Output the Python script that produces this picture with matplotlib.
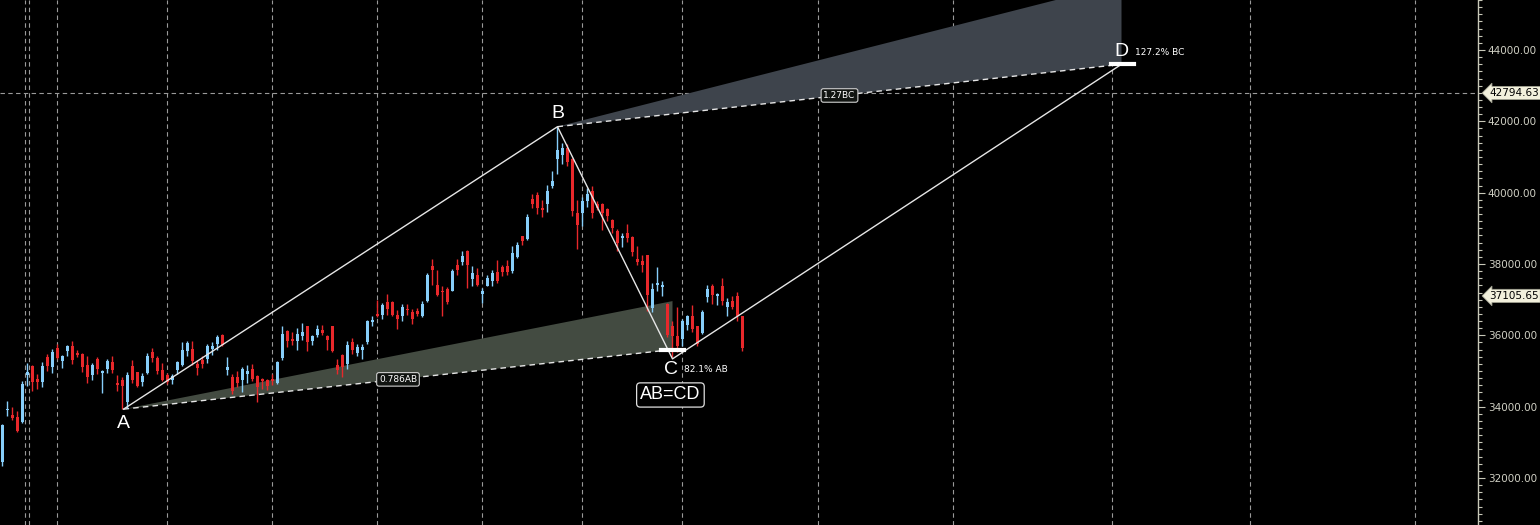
import numpy as np
import matplotlib.pyplot as plt
from matplotlib.patches import Polygon
from matplotlib.ticker import MultipleLocator, FuncFormatter
import matplotlib.transforms as mtransforms

# daily candles
opens = [32441, 33897, 33757, 33711, 33561, 34878, 35130, 34775, 34682, 35382,
         35102, 35643, 35270, 35550, 35690, 35503, 35475, 35158, 34897, 35345,
         34943, 35055, 35251, 34663, 34756, 34122, 35130, 34962, 34691, 34943,
         35522, 35363, 35037, 34896, 34738, 35037, 35177, 35550, 35625, 35196,
         35317, 35345, 35616, 35756, 36017, 35037, 34822, 34822, 34757, 34925,
         35065, 34869, 34776, 34738, 34785, 34664, 35364, 36129, 35905, 35831,
         35971, 36251, 35831, 35999, 36139, 35971, 36251, 35177, 35457, 35205,
         35803, 35504, 35579, 35803, 36363, 36605, 36577, 36922, 36922, 36577,
         36530, 36745, 36642, 36670, 36549, 36950, 37949, 37417, 37249, 37305,
         37249, 37977, 38052, 38370, 37576, 37697, 37156, 37389, 37511, 37772,
         37912, 37931, 37791, 38183, 38771, 38696, 39826, 39938, 39583, 39677,
         40200, 40947, 41059, 41245, 40937, 39443, 39425, 39779, 40050, 39686,
         39686, 39546, 39238, 38939, 38724, 38883, 38743, 38146, 38090, 38258,
         36764, 37399, 37352, 36876, 36250, 35989, 35905, 36278, 36530, 36269,
         36063, 37062, 37370, 37109, 37389, 36792, 36950, 37109, 36530]
highs = [33515, 34168, 33991, 33869, 34710, 35223, 35158, 34925, 35251, 35475,
         35625, 35756, 35457, 35737, 35849, 35578, 35503, 35429, 35223, 35382,
         35018, 35345, 35410, 34896, 34822, 34962, 35317, 34971, 34943, 35503,
         35643, 35410, 35223, 34943, 34915, 35270, 35812, 35830, 35849, 35317,
         35429, 35756, 35812, 36017, 36036, 35382, 34916, 35009, 35102, 35177,
         35205, 34897, 34804, 34785, 34916, 35289, 36251, 36157, 36092, 36204,
         36344, 36251, 36017, 36279, 36279, 36017, 36270, 35345, 35485, 35831,
         35924, 35765, 35765, 36438, 36531, 36997, 36904, 37165, 36950, 36717,
         36885, 36885, 36736, 36764, 36950, 37744, 38136, 37837, 37370, 37352,
         37856, 38136, 38370, 38398, 37949, 37884, 37324, 37697, 37819, 38117,
         37959, 38117, 38510, 38612, 38799, 39397, 39966, 40013, 39798, 40218,
         40610, 41852, 41385, 41357, 40965, 39798, 39873, 40125, 40190, 39770,
         39705, 39583, 39257, 38977, 38883, 39126, 38771, 38491, 38258, 38258,
         37464, 37912, 37529, 36904, 36390, 36792, 36465, 36577, 36857, 36269,
         36717, 37417, 37436, 37184, 37604, 37044, 37090, 37202, 36549]
lows = [32329, 33729, 33617, 33281, 33543, 34570, 34430, 34495, 34542, 34990,
        34943, 35335, 35083, 35410, 35195, 35391, 34962, 34663, 34738, 34915,
        34383, 34943, 34943, 34430, 33935, 33963, 34663, 34542, 34588, 34915,
        35242, 34915, 34710, 34635, 34644, 34915, 35149, 35429, 35177, 34878,
        35084, 35224, 35439, 35597, 35691, 34897, 34365, 34552, 34411, 34664,
        34710, 34122, 34496, 34458, 34617, 34645, 35317, 35663, 35737, 35597,
        35877, 35551, 35719, 35952, 36017, 35597, 35523, 34925, 34822, 35065,
        35485, 35410, 35345, 35765, 36251, 36512, 36465, 36577, 36549, 36175,
        36390, 36577, 36325, 36530, 36502, 36922, 37398, 37090, 36530, 36885,
        37231, 37679, 37959, 37324, 37370, 37370, 36904, 37370, 37370, 37464,
        37651, 37679, 37744, 38164, 38519, 38678, 39583, 39397, 39313, 39453,
        40144, 40517, 40807, 40760, 39359, 38426, 39070, 39593, 39303, 39518,
        38958, 39219, 38883, 38370, 38472, 38603, 38211, 37977, 37763, 36670,
        36642, 37230, 37109, 35951, 35391, 35531, 35690, 36157, 36091, 35690,
        36045, 36922, 36885, 36839, 36857, 36549, 36745, 36390, 35549]
closes = [33496, 33944, 33683, 33328, 34644, 34971, 34682, 34682, 35130, 35149,
          35531, 35363, 35410, 35690, 35317, 35438, 35102, 34831, 35158, 35055,
          34990, 35270, 35018, 34598, 34570, 34896, 34756, 34570, 34850, 35410,
          35363, 34990, 34756, 34682, 34850, 35242, 35597, 35784, 35270, 35084,
          35205, 35709, 35691, 35943, 35737, 35102, 34430, 34664, 35065, 34990,
          34785, 34552, 34710, 34589, 34720, 35242, 36045, 35831, 35831, 36045,
          36092, 35803, 35971, 36176, 36064, 35877, 35551, 35037, 35112, 35737,
          35597, 35663, 35663, 36391, 36438, 36549, 36857, 36745, 36577, 36465,
          36792, 36698, 36465, 36605, 36885, 37697, 37819, 37137, 37202, 36932,
          37791, 37837, 38211, 37959, 37744, 37417, 37249, 37604, 37744, 37529,
          37763, 37772, 38304, 38538, 38631, 39331, 39686, 39565, 39518, 40050,
          40330, 41199, 41245, 40872, 39499, 39098, 39779, 39966, 39425, 39565,
          39443, 39359, 39023, 38584, 38771, 38724, 38323, 38043, 37977, 37137,
          37305, 37464, 37399, 36017, 35970, 35690, 36390, 36530, 36185, 35765,
          36642, 37305, 37137, 37156, 36950, 36922, 36782, 36549, 35643]

# AB=CD pattern points (bar index, price)
pt_labels = ['A', 'B', 'C', 'D']
pt_x = [24.3, 111.1, 134.1, 223.9]
pt_y = [33930, 41850, 35340, 43600]
ab_618 = 36960
ab_786 = 35600
bc_1618 = 45870
bc_1272 = 43600

price_tags = [42794.63, 37105.65]
grid_x = [4.6, 5.4, 11, 33, 54, 75, 96, 116, 136, 163.2, 190.2, 222, 249.6, 282.6]

UP = '#87cefa'
DOWN = '#e8282b'
LINE = '#e6e6e6'

fig = plt.figure(figsize=(15.4, 5.25), dpi=100, facecolor='black')
ax = fig.add_axes([0, 0, 1478 / 1540, 1])
ax.set_facecolor('black')

for gx in grid_x:
    ax.axvline(gx, color='#9a9a9a', lw=0.8, ls=(0, (4, 3)), zorder=1)
ax.axhline(price_tags[0], color='#9a9a9a', lw=0.8, ls=(0, (4, 3)), zorder=1)

# fib zones
ax.add_patch(Polygon([(pt_x[0], pt_y[0]), (pt_x[2], ab_618), (pt_x[2], ab_786)],
                     closed=True, fc='#434b41', ec='none', zorder=2))
ax.add_patch(Polygon([(pt_x[1], pt_y[1]), (pt_x[3], bc_1618), (pt_x[3], bc_1272)],
                     closed=True, fc='#3e444c', ec='none', zorder=2))
ax.plot([pt_x[0], pt_x[2]], [pt_y[0], ab_786], color=LINE, lw=1, ls=(0, (4, 3)), zorder=3)
ax.plot([pt_x[1], pt_x[3]], [pt_y[1], bc_1272], color=LINE, lw=1, ls=(0, (4, 3)), zorder=3)

# candles
o = np.array(opens); h = np.array(highs); l = np.array(lows); c = np.array(closes)
x = np.arange(len(o))
cols = np.where(c >= o, UP, DOWN)
ax.vlines(x, l, h, colors=cols, lw=1, zorder=4)
ax.bar(x, np.maximum(np.abs(c - o), 30), bottom=np.minimum(o, c), width=0.6,
       color=cols, zorder=5)

# pattern legs
ax.plot(pt_x, pt_y, color=LINE, lw=1, zorder=6)
ax.plot([pt_x[2] - 2.4, pt_x[2] + 2.2], [ab_786, ab_786], color='white', lw=3, zorder=7)
ax.plot([pt_x[3] - 2.1, pt_x[3] + 2.5], [bc_1272, bc_1272], color='white', lw=3, zorder=7)

offs = [(0, -10), (0, 9.5), (-1, -8), (0, 9)]
for lab, px, py, off in zip(pt_labels, pt_x, pt_y, offs):
    ax.annotate(lab, (px, py), xytext=off, textcoords='offset points', ha='center',
                va='center', color='white', fontsize=14, family='Liberation Sans', zorder=8)

ax.annotate('82.1% AB', (pt_x[2], pt_y[2]), xytext=(8.5, -8), textcoords='offset points',
            ha='left', va='center', color='white', fontsize=6.5, zorder=8)
ax.annotate('127.2% BC', (pt_x[3], pt_y[3]), xytext=(9.5, 8.8), textcoords='offset points',
            ha='left', va='center', color='white', fontsize=6.5, zorder=8)
ax.annotate('AB=CD', (pt_x[2], pt_y[2]), xytext=(-1.5, -26), textcoords='offset points',
            ha='center', va='center', color='white', fontsize=13, family='Liberation Sans',
            bbox=dict(boxstyle='round,pad=0.2', fc='black', ec='#e0e0e0', lw=0.9), zorder=9)

box = dict(boxstyle='round,pad=0.25', fc='#111411', ec='#d0d0d0', lw=0.8)
ax.text((pt_x[0] + pt_x[2]) / 2, (pt_y[0] + ab_786) / 2, '0.786AB', ha='center', va='center',
        color='white', fontsize=6.5, bbox=box, zorder=9)
ax.text((pt_x[1] + pt_x[3]) / 2, (pt_y[1] + bc_1272) / 2, '1.27BC', ha='center', va='center',
        color='white', fontsize=6.5, bbox=box, zorder=9)

# axes
ax.set_xlim(-0.4, 295.2)
ax.set_ylim(30682, 45402)
ax.set_xticks([])
ax.yaxis.tick_right()
ax.yaxis.set_major_locator(MultipleLocator(2000))
ax.yaxis.set_minor_locator(MultipleLocator(200))
ax.yaxis.set_major_formatter(FuncFormatter(lambda v, p: f'{v:.2f}'))
ax.tick_params(axis='y', which='major', length=5, width=0.8, color='#c8c8b8',
               labelcolor='#d0d0c4', labelsize=7.5, pad=2)
ax.tick_params(axis='y', which='minor', length=3, width=0.8, color='#c8c8b8')
for s in ['left', 'top', 'bottom']:
    ax.spines[s].set_visible(False)
ax.spines['right'].set_color('#c8c8b8')
ax.spines['right'].set_linewidth(1)

trans = mtransforms.blended_transform_factory(ax.transAxes, ax.transData)
for tag in price_tags:
    ax.annotate(f'{tag:.2f}', (1.0, tag), xycoords=trans, xytext=(8, 0),
                textcoords='offset points', ha='left', va='center', fontsize=7.5,
                color='black', annotation_clip=False,
                bbox=dict(boxstyle='larrow,pad=0.15', fc='#f2f0dc', ec='#a0a090', lw=0.6))

fig.savefig('out.png', dpi=100, facecolor='black')
